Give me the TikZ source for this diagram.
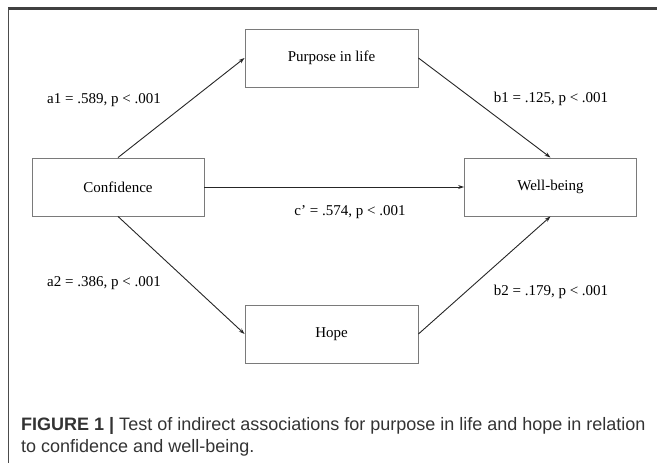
\documentclass[tikz,border=0pt]{standalone}
\usepackage{fontspec}
\setmainfont{Liberation Serif}
\newfontfamily\capfont{Liberation Sans}
\usetikzlibrary{arrows.meta}
\definecolor{boxgray}{HTML}{7A7A7A}
\definecolor{capgray}{HTML}{333333}
\tikzset{
  varbox/.style={draw=boxgray, line width=0.9pt, minimum width=#1, minimum height=58pt, inner sep=0pt, font=\fontsize{15}{18}\selectfont},
  varbox/.default=173pt,
  path/.style={draw=black!85, line width=0.9pt, -{Stealth[length=6pt,width=4pt]}},
  coef/.style={font=\fontsize{15}{18}\selectfont, inner sep=0pt},
  captext/.style={anchor=west, inner sep=0pt, text=capgray, font=\capfont\fontsize{18}{22}\selectfont}
}
\begin{document}
\begin{tikzpicture}[x=1pt,y=-1pt]
\useasboundingbox (0,0) rectangle (657,463);
% frame
\draw[draw=black!75, line width=2.2pt] (8,8.5) -- (657,8.5);
\draw[draw=black!70, line width=1.1pt] (8.5,8) -- (8.5,463);
% nodes
\node[varbox=173pt] (pur) at (331.5,58) {Purpose in life};
\node[varbox=172pt] (con) at (118,187) {Confidence};
\node[varbox=172pt] (wel) at (550.5,187) {Well-being};
\node[varbox=173pt] (hop) at (331.5,334) {Hope};
% connectors
\draw[path] (con.north) -- (pur.west);
\draw[path] (pur.east) -- (wel.north);
\draw[path] (con.east) -- (wel.west);
\draw[path] (con.south) -- (hop.west);
\draw[path] (hop.east) -- (wel.south);
% coefficients
\node[coef] (la1) at (104,100) {a1 = .589, p < .001};
\node[coef] (lb1) at (551,99) {b1 = .125, p < .001};
\node[coef] (lc) at (350,212) {c’ = .574, p < .001};
\node[coef] (la2) at (104,283) {a2 = .386, p < .001};
\node[coef] (lb2) at (551,292) {b2 = .179, p < .001};
% caption
\node[captext] (cap1) at (21,426) {\textbf{FIGURE 1 |} Test of indirect associations for purpose in life and hope in relation};
\node[captext] (cap2) at (21,448) {to confidence and well-being.};
\end{tikzpicture}
\end{document}
